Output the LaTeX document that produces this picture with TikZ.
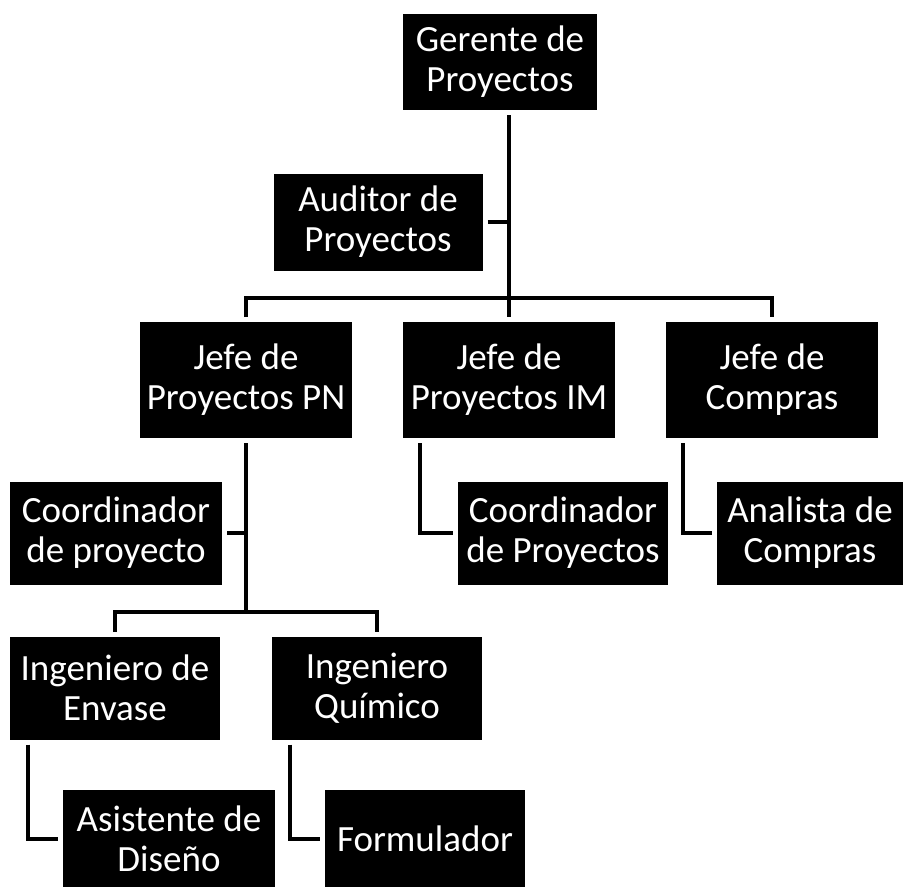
\documentclass[tikz,border=0pt]{standalone}
\usepackage{fontspec}
\setmainfont{Carlito}
\begin{document}
\begin{tikzpicture}[x=1pt,y=-1pt,
  box/.style={fill=black, text=white, inner sep=0pt, outer sep=5pt,
    align=center, font=\fontsize{37}{40}\selectfont},
  link/.style={draw=black, line width=4pt, line join=miter}]
\useasboundingbox (0,0) rectangle (914,887);

% boxes
\node[box, minimum width=194, minimum height=96]  (ger) at (500,62)    {Gerente de\\Proyectos};
\node[box, minimum width=209, minimum height=97]  (aud) at (378,222)   {Auditor de\\Proyectos};
\node[box, minimum width=212, minimum height=116] (jpn) at (246,380)   {Jefe de\\Proyectos PN};
\node[box, minimum width=212, minimum height=116] (jim) at (509,380)   {Jefe de\\Proyectos IM};
\node[box, minimum width=212, minimum height=116] (jco) at (772,380)   {Jefe de\\Compras};
\node[box, minimum width=212, minimum height=103] (cp)  at (116,533)   {Coordinador\\de proyecto};
\node[box, minimum width=210, minimum height=103] (cps) at (563,533)   {Coordinador\\de Proyectos};
\node[box, minimum width=186, minimum height=103] (ana) at (810,533)   {Analista de\\Compras};
\node[box, minimum width=210, minimum height=103] (ie)  at (115,688)   {Ingeniero de\\Envase};
\node[box, minimum width=210, minimum height=103] (iq)  at (377,688)   {Ingeniero\\Químico};
\node[box, minimum width=212, minimum height=97]  (asi) at (169,838.5) {Asistente de\\Diseño};
\node[box, minimum width=200, minimum height=97]  (for) at (425,838.5) {Formulador};

% guide positions for the connectors
\coordinate (topbar) at (0,298);
\coordinate (lowbar) at (0,612);
\coordinate (imx)  at (420,0);
\coordinate (cox)  at (683,0);
\coordinate (iex)  at (28,0);
\coordinate (iqx)  at (290,0);

% top level
\draw[link] (ger.south -| jim.north) -- (jim.north);
\draw[link] (aud.east) -- (aud.east -| jim.north);
\draw[link] (jpn.north) -- (jpn.north |- topbar) -- (jco.north |- topbar) -- (jco.north);

% under Jefe de Proyectos PN
\draw[link] (jpn.south) -- (jpn.south |- lowbar);
\draw[link] (cp.east) -- (cp.east -| jpn.south);
\draw[link] (ie.north) -- (ie.north |- lowbar) -- (iq.north |- lowbar) -- (iq.north);

% side branches
\draw[link] (jim.south -| imx) |- (cps.west);
\draw[link] (jco.south -| cox) |- (ana.west);
\draw[link] (ie.south -| iex) |- (asi.west);
\draw[link] (iq.south -| iqx) |- (for.west);
\end{tikzpicture}
\end{document}
